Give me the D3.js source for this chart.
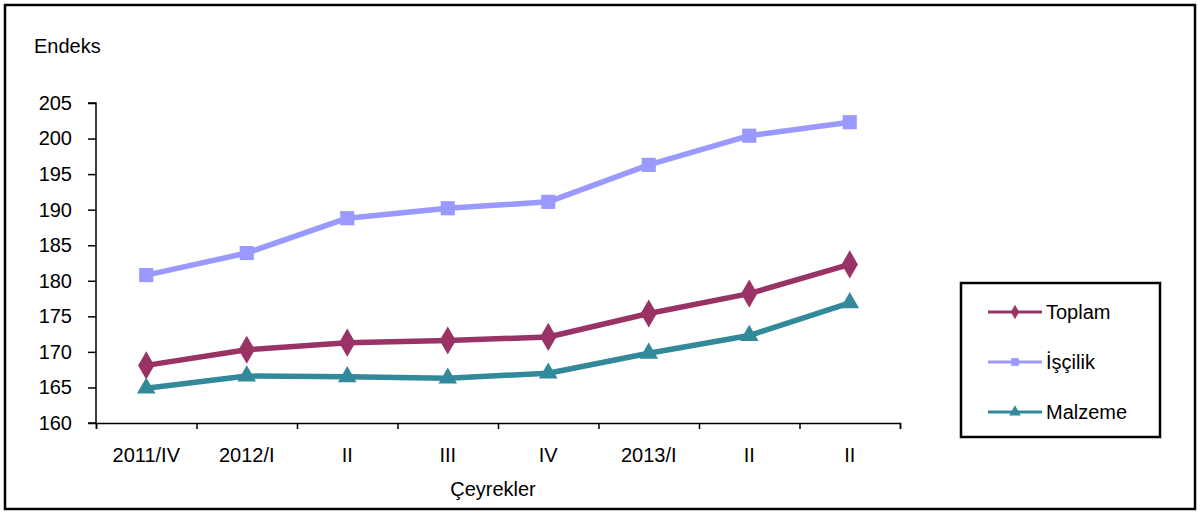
<!DOCTYPE html>
<html><head><meta charset="utf-8">
<script src="https://cdn.jsdelivr.net/npm/d3@7"></script>
<style>body{margin:0;background:#fff}svg text{font-family:"Liberation Sans",Arial,sans-serif}</style>
</head><body><svg id="c" width="1200" height="515"></svg>
<script>
const categories = ["2011/IV","2012/I","II","III","IV","2013/I","II","II"];
const toplam   = [168.1,170.3,171.3,171.6,172.1,175.4,178.2,182.3];
const iscilik  = [180.8,183.9,188.8,190.2,191.1,196.3,200.4,202.3];
const malzeme  = [164.9,166.6,166.5,166.3,167.0,169.8,172.3,176.9];
const yTicks   = [160,165,170,175,180,185,190,195,200,205];
const seriesNames = ["Toplam","İşçilik","Malzeme"];
const seriesColors = ["#993366","#9999ff","#31899a"];
const seriesSymbols = [d3.symbolDiamond, d3.symbolSquare, d3.symbolTriangle];
const seriesData = [toplam, iscilik, malzeme];

const svg = d3.select("#c");
svg.append("rect").attr("x",5).attr("y",5).attr("width",1190).attr("height",504)
  .attr("fill","#fff").attr("stroke","#000").attr("stroke-width",2.5);

const x0 = 96, x1 = 900, yTop = 103, yBot = 423;
const x = d3.scaleBand().domain(d3.range(categories.length)).range([x0,x1]).padding(0);
const xb = d3.scaleLinear().domain([0,categories.length]).range([x0,x1]);
const y = d3.scaleLinear().domain([160,205]).range([yBot,yTop]);

// y axis
const ya = svg.append("g").attr("transform",`translate(${x0},0)`)
  .call(d3.axisLeft(y).tickValues(yTicks).tickSize(8).tickPadding(16).tickFormat(d3.format("d")));
ya.selectAll("text").attr("font-size",20).attr("fill","#000");
ya.selectAll("line,path").attr("stroke","#000").attr("stroke-width",1.5);
ya.select(".domain").attr("d",`M-8,${yTop}H0V${yBot}H-8`);

// x axis boundary ticks
const xa = svg.append("g").attr("transform",`translate(0,${yBot})`)
  .call(d3.axisBottom(xb).tickValues(d3.range(categories.length+1)).tickSize(6).tickFormat(""));
xa.selectAll("line,path").attr("stroke","#000").attr("stroke-width",1.5);
// x labels
const xl = svg.append("g").attr("transform",`translate(0,${yBot})`)
  .call(d3.axisBottom(x).tickSize(0).tickPadding(25).tickFormat(i=>categories[i]));
xl.select(".domain").remove();
xl.selectAll("text").attr("font-size",20).attr("fill","#000");

svg.append("text").attr("x",34).attr("y",53).attr("font-size",20).text("Endeks");
svg.append("text").attr("x",(x0+x1)/2-5).attr("y",496).attr("text-anchor","middle").attr("font-size",20).text("Çeyrekler");

const line = d3.line().x((d,i)=>x(i)+x.bandwidth()/2).y(d=>y(d));
seriesData.forEach((s,k)=>{
  svg.append("path").datum(s).attr("d",line).attr("fill","none")
    .attr("stroke",seriesColors[k]).attr("stroke-width",5.5).attr("stroke-linejoin","round");
  svg.append("g").selectAll("path").data(s).join("path")
    .attr("transform",(d,i)=>`translate(${x(i)+x.bandwidth()/2},${y(d)})`)
    .attr("d",d3.symbol().type(seriesSymbols[k]).size(k===1?200:(k===0?230:150)))
    .attr("fill",seriesColors[k]);
});

// legend
const lg = svg.append("g");
lg.append("rect").attr("x",961).attr("y",283).attr("width",199).attr("height",154)
  .attr("fill","#fff").attr("stroke","#000").attr("stroke-width",2.5);
seriesNames.forEach((n,k)=>{
  const ly = 312 + k*50;
  lg.append("line").attr("x1",988).attr("x2",1042).attr("y1",ly).attr("y2",ly)
    .attr("stroke",seriesColors[k]).attr("stroke-width",3);
  lg.append("path").attr("transform",`translate(1015,${ly})`)
    .attr("d",d3.symbol().type(seriesSymbols[k]).size(60)).attr("fill",seriesColors[k]);
  lg.append("text").attr("x",1046).attr("y",ly+7).attr("font-size",20).text(n);
});
</script></body></html>
